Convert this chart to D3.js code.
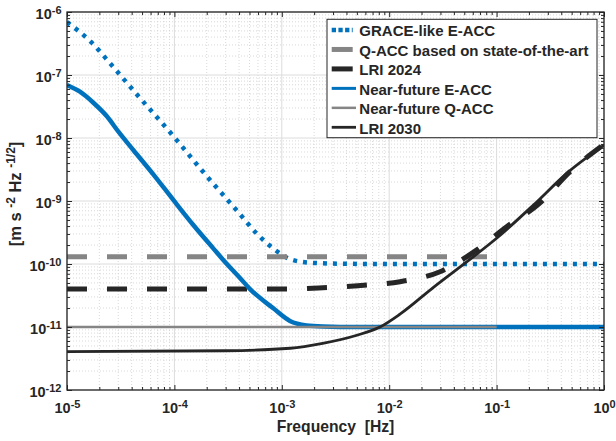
<!DOCTYPE html>
<html>
<head>
<meta charset="utf-8">
<script src="https://cdn.jsdelivr.net/npm/d3@7"></script>
<style>
  body { margin: 0; background: #fff; }
  text, tspan { font-family: "Liberation Sans", Arial, sans-serif; font-weight: 700; fill: #262626; }
</style>
</head>
<body>
<div id="chart"></div>
<script>
// values (frequency in Hz, ASD in m s^-2 Hz^-1/2)
const graceFreq = [1e-5, 1.7e-5, 2.6e-5, 4.6e-5, 9.4e-5, 1.9e-4, 3.9e-4, 5.9e-4, 8.3e-4, 1.2e-3, 1.8e-3, 3.5e-3, 1e-2, 1e-1, 1];
const graceVal  = [6.9e-7, 3.26e-7, 1.44e-7, 4.64e-8, 1.16e-8, 2.75e-9, 6.76e-10, 2.99e-10, 1.77e-10, 1.19e-10, 1.05e-10, 1.01e-10, 1e-10, 1e-10, 1e-10];

const qaccFreq = [1e-5, 1e-1];
const qaccVal  = [1.3e-10, 1.3e-10];

const lri24Freq = [1e-5, 1e-3, 2.2e-3, 5.1e-3, 1.26e-2, 2.97e-2, 6.2e-2, 0.124, 0.254, 0.48, 1];
const lri24Val  = [4e-11, 4e-11, 4.16e-11, 4.53e-11, 5.24e-11, 7.55e-11, 1.57e-10, 3.9e-10, 9.3e-10, 2.9e-9, 7.9e-9];

const nfEaccFreq = [1e-5, 1.32e-5, 1.76e-5, 2.34e-5, 3.01e-5, 4.14e-5, 6.36e-5, 9.77e-5, 1.5e-4, 2.3e-4, 2.85e-4, 4.08e-4, 5.06e-4, 8.34e-4, 1.19e-3, 1.7e-3, 2.43e-3, 5e-3, 1];
const nfEaccVal  = [6.93e-8, 5.43e-8, 3.63e-8, 2.23e-8, 1.26e-8, 6.45e-9, 2.65e-9, 1.04e-9, 4.16e-10, 1.77e-10, 1.16e-10, 6.0e-11, 4.0e-11, 1.98e-11, 1.25e-11, 1.06e-11, 1.02e-11, 1e-11, 1e-11];

const nfQaccFreq = [1e-5, 1e-1];
const nfQaccVal  = [1e-11, 1e-11];

const lri30Freq = [1e-5, 3e-4, 1.2e-3, 2.4e-3, 5e-3, 8.2e-3, 1.26e-2, 2.6e-2, 5.3e-2, 0.1, 0.22, 0.45, 1];
const lri30Val  = [4.06e-12, 4.2e-12, 4.6e-12, 5.5e-12, 7.4e-12, 1.0e-11, 1.6e-11, 4.3e-11, 1.09e-10, 2.56e-10, 8.6e-10, 2.75e-9, 7.7e-9];

const xTicks = [1e-5, 1e-4, 1e-3, 1e-2, 1e-1, 1];
const yTicks = [1e-12, 1e-11, 1e-10, 1e-9, 1e-8, 1e-7, 1e-6];

var margin = { top: 12, right: 12, bottom: 51, left: 67 },
    width = 616 - margin.left - margin.right,
    height = 441 - margin.top - margin.bottom;

var svg = d3.select("#chart").append("svg")
    .attr("width", 616).attr("height", 441)
    .append("g")
    .attr("transform", "translate(" + margin.left + "," + margin.top + ")");

var x = d3.scaleLog().domain([1e-5, 1]).range([0, width]);
var y = d3.scaleLog().domain([1e-12, 1e-6]).range([height, 0]);

// minor values between decades
function minors(ticks) {
  var out = [];
  for (var i = 0; i < ticks.length - 1; i++)
    for (var k = 2; k <= 9; k++) out.push(ticks[i] * k);
  return out;
}
var xMinor = minors(xTicks), yMinor = minors(yTicks);

// grid
var grid = svg.append("g");
grid.selectAll(".xm").data(xMinor).enter().append("line")
  .attr("x1", d => x(d)).attr("x2", d => x(d)).attr("y1", 0).attr("y2", height)
  .attr("stroke", "#cfcfcf").attr("stroke-width", 0.8).attr("stroke-dasharray", "1,2");
grid.selectAll(".ym").data(yMinor).enter().append("line")
  .attr("y1", d => y(d)).attr("y2", d => y(d)).attr("x1", 0).attr("x2", width)
  .attr("stroke", "#cfcfcf").attr("stroke-width", 0.8).attr("stroke-dasharray", "1,2");
grid.selectAll(".xM").data(xTicks).enter().append("line")
  .attr("x1", d => x(d)).attr("x2", d => x(d)).attr("y1", 0).attr("y2", height)
  .attr("stroke", "#dcdcdc").attr("stroke-width", 1);
grid.selectAll(".yM").data(yTicks).enter().append("line")
  .attr("y1", d => y(d)).attr("y2", d => y(d)).attr("x1", 0).attr("x2", width)
  .attr("stroke", "#dcdcdc").attr("stroke-width", 1);

// series
var series = [
  { name: "GRACE-like E-ACC", f: graceFreq, v: graceVal, color: "#0072BD", w: 4.5, dash: "4,6", legDash: "4.3,2.4" },
  { name: "Q-ACC based on state-of-the-art", f: qaccFreq, v: qaccVal, color: "#858585", w: 5, dash: "20,20", legDash: "21,10" },
  { name: "LRI 2024", f: lri24Freq, v: lri24Val, color: "#262626", w: 5, dash: "20,20", legDash: "21,10" },
  { name: "Near-future E-ACC", f: nfEaccFreq, v: nfEaccVal, color: "#0072BD", w: 4.5, dash: null },
  { name: "Near-future Q-ACC", f: nfQaccFreq, v: nfQaccVal, color: "#858585", w: 2.5, dash: null },
  { name: "LRI 2030", f: lri30Freq, v: lri30Val, color: "#262626", w: 2.8, dash: null }
];

svg.append("clipPath").attr("id", "clip")
  .append("rect").attr("width", width).attr("height", height);

var line = d3.line()
  .x(d => x(d[0])).y(d => y(d[1]))
  .curve(d3.curveMonotoneX);

svg.append("g").attr("clip-path", "url(#clip)")
  .selectAll("path").data(series).enter().append("path")
  .attr("d", s => line(s.f.map((f, i) => [f, s.v[i]])))
  .attr("fill", "none")
  .attr("stroke", s => s.color)
  .attr("stroke-width", s => s.w)
  .attr("stroke-dasharray", s => s.dash);

// axes (ticks inward, box on all sides)
function supLabel(sel, isX) {
  sel.attr("font-size", null).attr("font-family", null);
  sel.selectAll(".tick text").each(function (d) {
    var t = d3.select(this).text(null).attr("dy", null).style("font-size", "14.5px");
    if (isX) t.attr("y", 23).attr("text-anchor", "middle");
    else t.attr("x", -5.5).attr("y", 6.3).attr("text-anchor", "end");
    t.append("tspan").text("10");
    t.append("tspan").text(Math.round(Math.log10(d))).style("font-size", "11px").attr("dy", -5);
  });
}

var axB = svg.append("g").attr("transform", "translate(0," + height + ")")
  .call(d3.axisBottom(x).tickValues(xTicks).tickSizeInner(-5).tickSizeOuter(0).tickPadding(0));
supLabel(axB, true);
var axL = svg.append("g")
  .call(d3.axisLeft(y).tickValues(yTicks).tickSizeInner(-5).tickSizeOuter(0).tickPadding(0));
supLabel(axL, false);
svg.append("g").call(d3.axisTop(x).tickValues(xTicks).tickSizeInner(-5).tickSizeOuter(0).tickFormat(""));
svg.append("g").attr("transform", "translate(" + width + ",0)")
  .call(d3.axisRight(y).tickValues(yTicks).tickSizeInner(-5).tickSizeOuter(0).tickFormat(""));
// minor ticks
svg.append("g").attr("transform", "translate(0," + height + ")")
  .call(d3.axisBottom(x).tickValues(xMinor).tickSizeInner(-3).tickSizeOuter(0).tickFormat(""));
svg.append("g").call(d3.axisTop(x).tickValues(xMinor).tickSizeInner(-3).tickSizeOuter(0).tickFormat(""));
svg.append("g").call(d3.axisLeft(y).tickValues(yMinor).tickSizeInner(-3).tickSizeOuter(0).tickFormat(""));
svg.append("g").attr("transform", "translate(" + width + ",0)")
  .call(d3.axisRight(y).tickValues(yMinor).tickSizeInner(-3).tickSizeOuter(0).tickFormat(""));

svg.selectAll(".domain").remove();
svg.selectAll(".tick line").attr("stroke", "#262626");
svg.append("rect").attr("width", width).attr("height", height)
  .attr("fill", "none").attr("stroke", "#262626").attr("stroke-width", 1.3);

// axis titles
svg.append("text")
  .attr("x", width / 2).attr("y", height + 42)
  .attr("text-anchor", "middle").style("font-size", "15.7px").style("white-space", "pre")
  .text("Frequency  [Hz]");

var yl = svg.append("text")
  .attr("transform", "translate(" + (21 - margin.left) + "," + (194 - margin.top) + ")rotate(-90)")
  .attr("text-anchor", "middle").style("font-size", "16.5px").style("white-space", "pre");
yl.append("tspan").text("[m s ");
yl.append("tspan").text("-2").style("font-size", "12px").attr("dy", -6.5);
yl.append("tspan").text(" Hz ").attr("dy", 6.5);
yl.append("tspan").text("-1/2").style("font-size", "12px").attr("dy", -6.5);
yl.append("tspan").text("]").attr("dy", 6.5);

// legend
var leg = svg.append("g").attr("transform", "translate(" + (327 - margin.left) + "," + (19.3 - margin.top) + ")");
leg.append("rect").attr("width", 270).attr("height", 118.4)
  .attr("fill", "#fff").attr("stroke", "#262626").attr("stroke-width", 1);
var rows = leg.selectAll(".row").data(series).enter().append("g")
  .attr("transform", (d, i) => "translate(0," + (11.7 + i * 19.46) + ")");
rows.append("line")
  .attr("x1", 4.7).attr("x2", s => s.dash ? 25.7 : 29)
  .attr("y1", -1).attr("y2", -1)
  .attr("stroke", s => s.color)
  .attr("stroke-width", s => s.dash ? s.w : Math.min(s.w, 3))
  .attr("stroke-dasharray", s => s.legDash || null);
rows.append("text").attr("x", 32.3).attr("y", 5.3)
  .style("font-size", "15px")
  .text(s => s.name);
</script>
</body>
</html>
